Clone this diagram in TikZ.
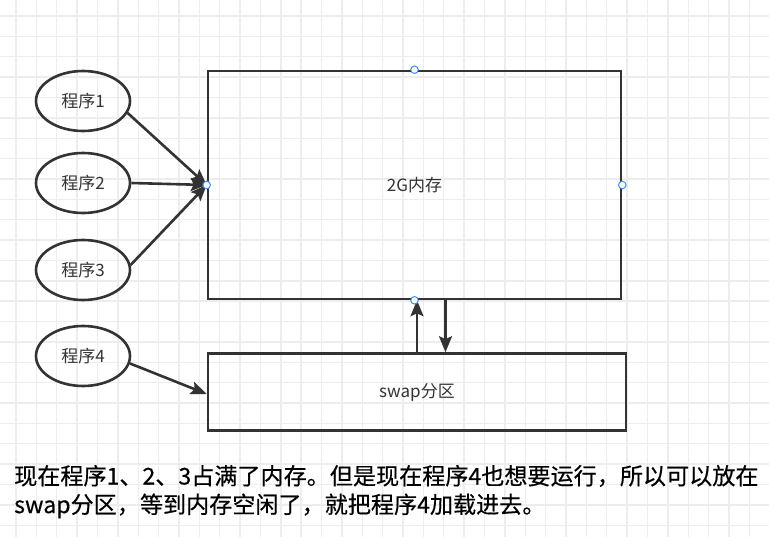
\documentclass[tikz,border=0pt]{standalone}
\usepackage{fontspec}
\setmainfont{Noto Sans CJK SC}
\usetikzlibrary{shapes.geometric,arrows.meta}
\definecolor{ink}{HTML}{333333}
\definecolor{gridc}{HTML}{EDEDED}
\definecolor{handle}{HTML}{3D8EFF}
\tikzset{
  prog/.style={ellipse,draw=ink,line width=2.6pt,minimum width=94pt,minimum height=60pt,inner sep=0pt,font=\fontsize{17}{19}\selectfont,text=ink},
  box/.style={rectangle,draw=ink,line width=2.6pt,inner sep=0pt,font=\fontsize{17}{19}\selectfont,text=ink},
  arr/.style={draw=ink,line width=2.6pt,-{Stealth[length=16pt,width=13pt,inset=3pt]}},
  hdl/.style={circle,draw=handle,fill=white,line width=1pt,minimum size=7.5pt,inner sep=0pt},
  note/.style={anchor=west,inner sep=0pt,font=\addfontfeature{FakeBold=0.4}\fontsize{23.1}{26}\selectfont,text=black}
}
\begin{document}
\begin{tikzpicture}[x=1pt,y=-1pt]
\useasboundingbox (0,0) rectangle (769,537);
\fill[white] (0,0) rectangle (769,537);
% grid
\foreach \i in {0,...,37} {
  \draw[gridc,line width=1.4pt] ({16+20.37*\i},0) -- ({16+20.37*\i},537);
}
\foreach \i in {0,...,26} {
  \draw[gridc,line width=1.4pt] (0,{16+20.37*\i}) -- (769,{16+20.37*\i});
}
% boxes
\node[box,minimum width=413pt,minimum height=228pt] (mem) at (414.5,185) {2G内存};
\node[box,minimum width=418pt,minimum height=77pt] (swap) at (417,392) {swap分区};
% programs
\node[prog] (p1) at (83,101) {程序1};
\node[prog] (p2) at (83,183) {程序2};
\node[prog] (p3) at (83,270) {程序3};
\node[prog] (p4) at (83,356) {程序4};
% arrows
\draw[arr] (p1.-15) -- (mem.west);
\draw[arr] (p2.east) -- (mem.west);
\draw[arr] (p3.6) -- (mem.west);
\draw[arr] (p4.-9) -- ([yshift=-2]swap.west);
\draw[arr] (swap.north) -- (swap.north |- mem.south);
\draw[arr] ([xshift=31]mem.south) -- ([xshift=31]mem.south |- swap.north);
% handles
\node[hdl] (h1) at (mem.north) {};
\node[hdl] (h2) at (mem.west) {};
\node[hdl] (h3) at (mem.east) {};
\node[hdl] (h4) at (mem.south) {};
% note
\node[note] (n1) at (14,476) {现在程序1、2、3占满了内存。但是现在程序4也想要运行，所以可以放在};
\node[note] (n2) at (14,506) {swap分区，等到内存空闲了，就把程序4加载进去。};
\end{tikzpicture}
\end{document}
